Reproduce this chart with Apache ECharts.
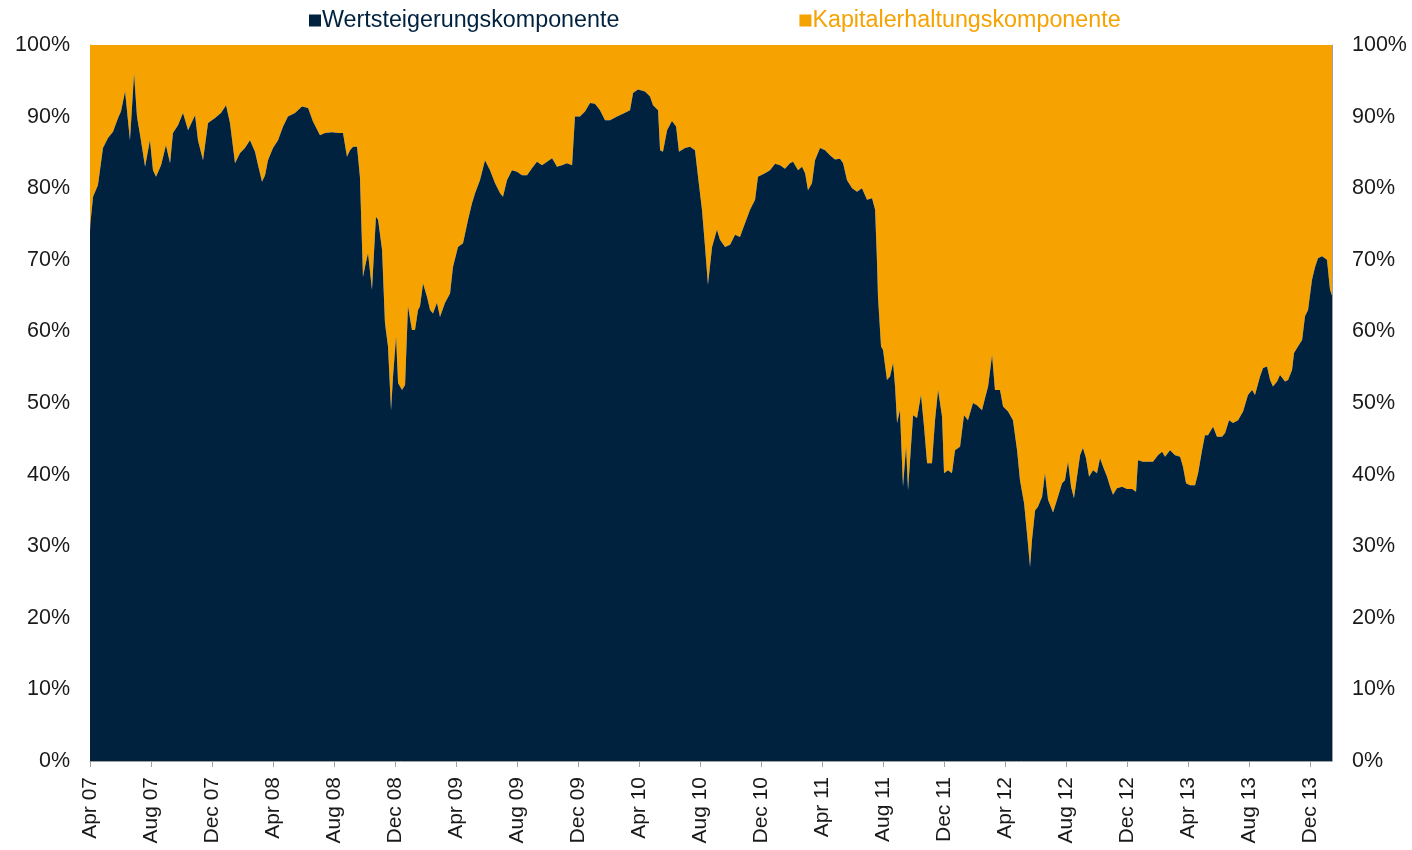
<!DOCTYPE html>
<html><head><meta charset="utf-8">
<script src="https://cdn.jsdelivr.net/npm/echarts@6/dist/echarts.min.js"></script>
<style>html,body{margin:0;padding:0;background:#fff}#c{width:1412px;height:850px}</style>
</head><body><div id="c"></div>
<script>
// tick labels every 4 months, starting Apr 2007
const tickLabels = ['Apr 07','Aug 07','Dec 07','Apr 08','Aug 08','Dec 08','Apr 09','Aug 09','Dec 09','Apr 10','Aug 10','Dec 10','Apr 11','Aug 11','Dec 11','Apr 12','Aug 12','Dec 12','Apr 13','Aug 13','Dec 13'];
const seriesNames = ['Wertsteigerungskomponente','Kapitalerhaltungskomponente'];
// time in months since 1 Apr 2007
const months = [0,0.07,0.20,0.52,0.85,1.18,1.51,1.84,2.03,2.30,2.62,2.89,3.08,3.34,3.61,3.93,4.13,4.33,4.66,4.98,5.25,5.44,5.77,6.10,6.43,6.89,7.08,7.41,7.74,8.20,8.59,8.92,9.18,9.51,9.84,10.16,10.49,10.82,11.02,11.28,11.48,11.67,12.00,12.33,12.66,12.98,13.44,13.90,14.30,14.62,15.08,15.41,15.87,16.26,16.59,16.85,17.05,17.25,17.51,17.70,17.90,18.03,18.23,18.49,18.75,18.89,19.15,19.34,19.54,19.74,19.87,20.07,20.20,20.46,20.66,20.85,21.11,21.31,21.51,21.64,21.84,22.10,22.30,22.49,22.75,22.95,23.28,23.61,23.80,24.13,24.46,24.79,25.05,25.25,25.57,25.90,26.23,26.56,26.89,27.08,27.34,27.67,28.00,28.33,28.66,28.98,29.31,29.64,29.97,30.30,30.62,30.95,31.28,31.61,31.74,31.80,32.13,32.46,32.79,33.11,33.44,33.77,34.10,34.56,34.95,35.41,35.61,35.93,36.39,36.72,36.92,37.25,37.38,37.57,37.84,38.16,38.43,38.62,39.02,39.34,39.67,39.87,40.13,40.33,40.52,40.79,41.11,41.31,41.64,41.97,42.30,42.62,42.95,43.28,43.61,43.80,44.26,44.59,44.92,45.25,45.57,45.90,46.10,46.43,46.69,46.89,47.08,47.34,47.54,47.87,48.20,48.52,48.85,49.18,49.38,49.64,49.97,50.30,50.62,50.95,51.28,51.48,51.61,51.67,51.87,52.00,52.26,52.46,52.66,52.79,52.92,53.11,53.31,53.51,53.64,53.97,54.23,54.49,54.69,54.89,55.21,55.41,55.61,55.87,56.00,56.26,56.52,56.72,57.05,57.31,57.57,57.90,58.16,58.49,58.69,58.89,59.15,59.34,59.67,59.87,60.20,60.52,60.79,60.98,61.25,61.44,61.64,61.77,61.97,62.16,62.43,62.62,62.82,63.15,63.41,63.74,63.93,64.13,64.33,64.52,64.72,64.92,65.11,65.31,65.51,65.77,66.03,66.23,66.43,66.69,66.89,67.08,67.34,67.67,68.00,68.33,68.59,68.72,69.05,69.38,69.70,70.03,70.30,70.49,70.82,71.15,71.48,71.67,71.87,72.13,72.46,72.66,72.92,73.11,73.31,73.64,73.90,74.23,74.43,74.69,74.95,75.28,75.61,75.93,76.20,76.39,76.72,76.92,77.18,77.38,77.57,77.84,78.03,78.36,78.56,78.82,78.95,79.21,79.48,79.67,79.87,80.13,80.33,80.52,80.79,81.11,81.31,81.44];
// share of the Wertsteigerungskomponente in % (the Kapitalerhaltungskomponente is the rest up to 100 %)
const wert = [74,76,78.8,80.4,85.6,87,87.9,89.8,90.7,93.5,86.7,96,90,86.7,83,86.7,82.5,81.6,83.2,86,83.5,87.7,88.8,90.5,88.1,90.2,86.7,83.9,89.1,89.8,90.5,91.6,89.1,83.5,84.9,85.6,86.7,85.1,83.2,80.9,81.8,83.9,85.6,86.7,88.6,90,90.5,91.4,91.2,89.3,87.4,87.7,87.8,87.7,87.7,84.4,85.3,85.8,85.8,81.6,67.6,69,70.9,65.8,76,75.6,71.4,61.2,57.9,49,53.7,59.3,52.8,51.8,52.5,63.5,60.2,60.2,63,63.5,66.7,64.8,63,62.5,64,62,64,65.3,69,71.8,72.3,75.6,77.9,79.3,81.1,83.9,82.5,80.7,79.3,78.8,81.1,82.5,82.3,81.8,81.8,82.8,83.7,83.2,83.7,84.2,83,83.2,83.5,83.2,83.4,90,90,90.7,91.9,91.8,90.9,89.5,89.5,90,90.4,90.9,93.3,93.8,93.5,92.8,91.6,90.9,85.3,85.1,88.1,89.4,88.6,85.1,85.6,85.8,85.3,81.6,77,71.8,66.5,71.8,74.2,72.8,71.8,72.1,73.5,73.2,75.1,77,78.4,81.6,82.1,82.5,83.4,83.2,82.7,83.5,83.7,82.5,83,82.1,79.7,80.7,83.9,85.6,85.3,84.6,84,84.1,83.5,81.1,80,79.5,80,78.4,78.6,77,69.5,64.8,57.9,57.4,53.2,53.7,55.6,52.3,47.2,49,38.3,43.9,37.8,48.3,47.9,51.1,46.7,41.6,41.6,47.6,51.8,48.1,40.2,40.6,40.2,43.4,43.9,48.3,47.6,50,49.7,49,50.7,52.3,56.7,51.8,51.8,49.5,48.8,47.6,43.4,39.2,36,31.8,27.1,30.9,35,35.5,36.9,40.2,36.5,34.7,36.5,38.8,39.2,41.8,38.3,36.7,39.7,42.7,43.7,42.3,39.7,40.6,40.2,42.3,41.1,39.7,38.3,37.2,38.1,38.3,38,38,37.6,42,41.8,41.8,41.8,42.7,43.2,42.5,43.4,42.7,42.5,41.1,38.8,38.5,38.5,40.2,43.4,45.5,45.5,46.7,45.3,45.3,45.8,47.6,47.2,47.6,48.8,51.1,51.8,51.1,53.7,54.9,55.1,53.2,52.3,53,53.9,53,53.2,54.6,57,57.9,58.8,62.1,63,67.2,69,70.2,70.5,70,65.8,65];

const NAVY = '#00223f';
const ORANGE = '#f6a200';
const boundary = months.map((m, i) => [m, wert[i]]);
const tickVals = tickLabels.map((_, i) => i * 4);

const chart = echarts.init(document.getElementById('c'), null, {renderer: 'canvas'});
const font = '"Liberation Sans", Arial, sans-serif';
const yAxisCommon = {
  type: 'value', min: 0, max: 100, interval: 10,
  axisLine: {show: true, lineStyle: {color: '#a0a0a0', width: 1}},
  axisTick: {show: false},
  splitLine: {show: false},
  axisLabel: {formatter: v => v + '%', fontSize: 21.5, color: '#1a1a1a', fontFamily: font, margin: 20}
};
chart.setOption({
  animation: false,
  backgroundColor: '#ffffff',
  legend: {
    top: 4, left: 304, itemWidth: 12, itemHeight: 12, itemGap: 180,
    icon: 'rect',
    textStyle: {fontSize: 23.3, fontFamily: font, padding: [0,0,0,-4]},
    data: [
      {name: seriesNames[0], itemStyle: {color: NAVY}, textStyle: {color: NAVY}},
      {name: seriesNames[1], itemStyle: {color: ORANGE}, textStyle: {color: ORANGE}}
    ]
  },
  grid: {left: 90, right: 80, top: 45, bottom: 89, containLabel: false},
  xAxis: {
    type: 'value', min: 0, max: months[months.length - 1],
    axisLine: {show: true, onZero: false, lineStyle: {color: '#a0a0a0', width: 1}},
    axisTick: {show: true, length: 6, lineStyle: {color: '#a0a0a0'}, customValues: tickVals},
    splitLine: {show: false},
    axisLabel: {
      customValues: tickVals,
      rotate: 90, fontSize: 21, color: '#1a1a1a', fontFamily: font, margin: 16,
      formatter: v => tickLabels[Math.round(v / 4)] || ''
    }
  },
  yAxis: [
    Object.assign({position: 'left'}, yAxisCommon),
    Object.assign({position: 'right'}, yAxisCommon)
  ],
  series: [
    {
      // Kapitalerhaltung: area from the boundary up to 100 %
      name: seriesNames[1], type: 'line', data: boundary,
      showSymbol: false, symbol: 'none', smooth: false,
      lineStyle: {width: 0, color: ORANGE}, itemStyle: {color: ORANGE},
      areaStyle: {color: ORANGE, opacity: 1, origin: 'end'}
    },
    {
      // Wertsteigerung: area from 0 up to the boundary
      name: seriesNames[0], type: 'line', data: boundary,
      showSymbol: false, symbol: 'none', smooth: false,
      lineStyle: {width: 0, color: NAVY}, itemStyle: {color: NAVY},
      areaStyle: {color: NAVY, opacity: 1, origin: 'start'}
    }
  ]
});
</script>
</body></html>
